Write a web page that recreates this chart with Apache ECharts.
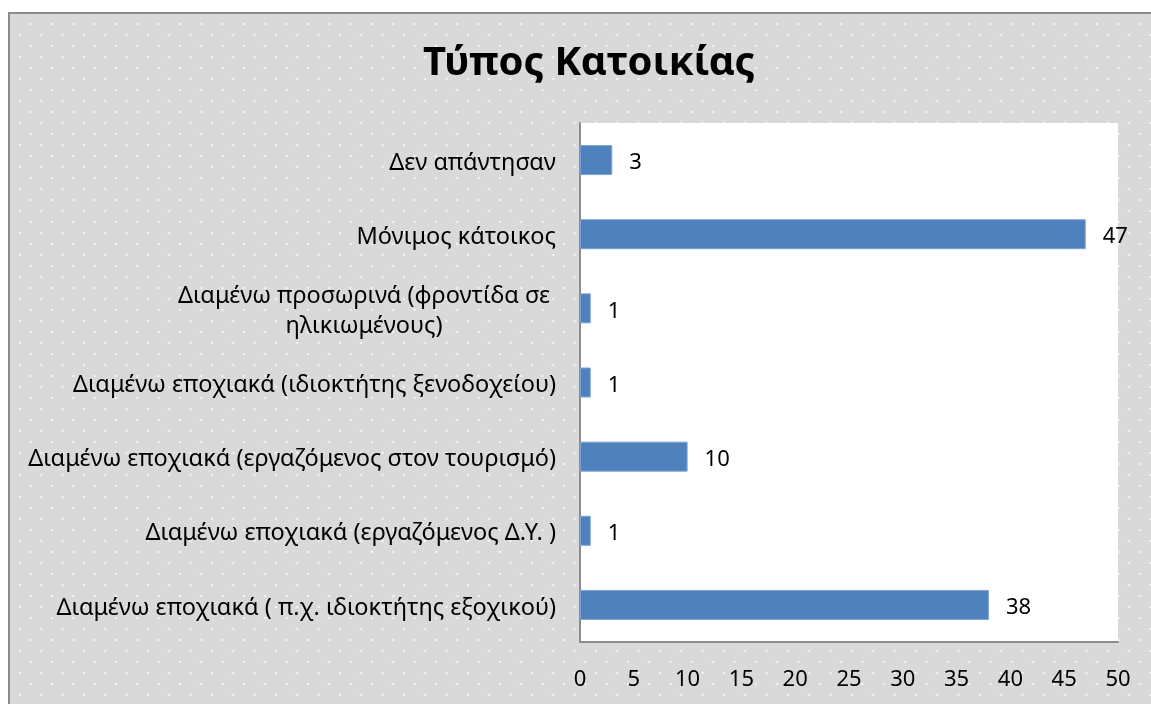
<!DOCTYPE html>
<html>
<head>
<meta charset="utf-8">
<script src="https://cdn.jsdelivr.net/npm/echarts@6/dist/echarts.min.js"></script>
<style>
  html, body { margin: 0; padding: 0; background: #fff; }
  .frame {
    position: absolute; left: 8px; top: 12px; width: 1160px; height: 720px;
    border: 2px solid #8c8c8c; box-sizing: border-box;
    background-color: #d9d9d9;
    background-image:
      radial-gradient(circle, #f4f4f4 1px, transparent 1.6px),
      radial-gradient(circle, #f4f4f4 1px, transparent 1.6px);
    background-size: 21.33px 22px;
    background-position: 10px -1px, 20.66px 10px;
  }
  #chart { position: absolute; left: 0; top: 0; width: 1151px; height: 704px; }
</style>
</head>
<body>
<div class="frame"></div>
<div id="chart"></div>
<script>
// categories, top to bottom
const categories = [
  "Δεν απάντησαν",
  "Μόνιμος κάτοικος",
  "Διαμένω προσωρινά (φροντίδα σε\nηλικιωμένους)",
  "Διαμένω εποχιακά (ιδιοκτήτης ξενοδοχείου)",
  "Διαμένω εποχιακά (εργαζόμενος στον τουρισμό)",
  "Διαμένω εποχιακά (εργαζόμενος Δ.Υ. )",
  "Διαμένω εποχιακά ( π.χ. ιδιοκτήτης εξοχικού)"
];
const values = [3, 47, 1, 1, 10, 1, 38];
const titleText = "Τύπος Κατοικίας";

const font = "Noto Sans";
const chart = echarts.init(document.getElementById("chart"));

chart.setOption({
  backgroundColor: "transparent",
  animation: false,
  title: {
    text: titleText,
    left: 584,
    top: 39,
    textAlign: "center",
    textStyle: { fontFamily: font, fontSize: 40, fontWeight: "bold", color: "#000" }
  },
  grid: {
    left: 580, right: 33, top: 123, bottom: 62,
    show: true, backgroundColor: "#fff", borderWidth: 0
  },
  xAxis: {
    type: "value",
    min: 0, max: 50, interval: 5,
    splitLine: { show: false },
    axisTick: { show: false },
    axisLine: { show: true, lineStyle: { color: "#8c8c8c", width: 2 } },
    axisLabel: { color: "#000", fontFamily: font, fontSize: 22, margin: 27 }
  },
  yAxis: {
    type: "category",
    inverse: true,
    data: categories,
    axisTick: { show: false },
    axisLine: { show: true, lineStyle: { color: "#8c8c8c", width: 2 } },
    axisLabel: {
      color: "#000", fontFamily: font, fontSize: 23.5, margin: 24, lineHeight: 30,
      padding: [6, 0, 0, 0],
      formatter: function (v) {
        if (v.indexOf("\n") < 0) return v;
        return v.split("\n").map(function (s) { return "{c|" + s + "}"; }).join("\n");
      },
      rich: { c: { width: 384, align: "center", fontFamily: font, fontSize: 23.5, lineHeight: 30, color: "#000" } }
    }
  },
  series: [{
    type: "bar",
    data: values,
    barWidth: 30,
    itemStyle: { color: "#4f81bd", borderColor: "#7ea3d1", borderWidth: 1 },
    label: {
      show: true, position: "right", distance: 17,
      offset: [0, 3],
      color: "#000", fontFamily: font, fontSize: 22
    }
  }]
});
</script>
</body>
</html>
